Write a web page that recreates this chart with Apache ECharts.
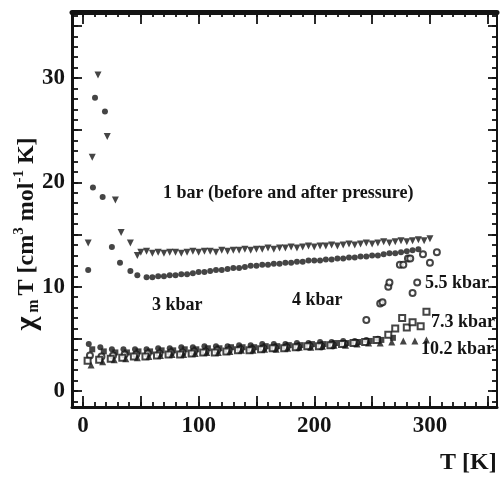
<!DOCTYPE html>
<html><head><meta charset="utf-8">
<script src="https://cdn.jsdelivr.net/npm/echarts@6/dist/echarts.min.js"></script>
<style>html,body{margin:0;padding:0;background:#fff}#c{width:503px;height:485px}</style>
</head><body><div id="c"></div>
<script>
// ---- tick labels ----
const xTickLabels = [0, 100, 200, 300];
const yTickLabels = [0, 10, 20, 30];

// ---- data (T in K, chi_m*T in cm3 mol-1 K) ----
const T_1bar_before = [4.5, 8, 13, 21, 28, 33, 41, 47, 50,
  55,60,65,70,75,80,85,90,95,100,105,110,115,120,125,130,135,140,145,150,155,160,165,170,175,180,185,190,195,200,
  205,210,215,220,225,230,235,240,245,250,255,260,265,270,275,280,285,290,295,300];
const V_1bar_before = [14.2, 22.4, 30.3, 24.4, 18.3, 15.2, 14.2, 13.0, 13.3,
  13.4,13.2,13.3,13.2,13.3,13.3,13.2,13.3,13.4,13.3,13.4,13.4,13.3,13.5,13.4,13.5,13.5,13.6,13.5,13.6,13.6,13.7,13.6,13.7,13.7,13.8,13.7,13.8,13.9,13.8,
  13.9,13.9,14.0,13.9,14.0,14.1,14.0,14.1,14.2,14.1,14.2,14.3,14.2,14.3,14.4,14.3,14.4,14.5,14.4,14.6];

const T_1bar_after = [4.5, 8.6, 10.4, 17, 19, 25, 32, 41, 47,
  55,60,65,70,75,80,85,90,95,100,105,110,115,120,125,130,135,140,145,150,155,160,165,170,175,180,185,190,195,200,
  205,210,215,220,225,230,235,240,245,250,255,260,265,270,275,280,285,290];
const V_1bar_after = [11.6, 19.5, 28.1, 18.6, 26.8, 13.8, 12.3, 11.5, 11.1,
  10.9,10.9,11.0,11.0,11.1,11.1,11.2,11.2,11.3,11.4,11.4,11.5,11.6,11.6,11.7,11.8,11.8,11.9,12.0,12.0,12.1,12.1,12.2,12.2,12.3,12.3,12.4,12.4,12.5,12.5,
  12.5,12.6,12.6,12.7,12.7,12.8,12.8,12.9,12.9,13.0,13.0,13.1,13.2,13.2,13.3,13.4,13.5,13.6];

const T_3kbar = [5,15,25,35,45,55,65,75,85,95,105,115,125,135,145,155,165,175,185,195,205,215,225,235,245,255];
const V_3kbar = [4.5,4.2,4.0,4.0,4.0,4.0,4.1,4.1,4.2,4.2,4.3,4.3,4.3,4.4,4.4,4.5,4.5,4.5,4.6,4.6,4.7,4.7,4.8,4.8,4.9,5.0];

const T_4kbar = [8,18,28,38,48,58,68,78,88,98,108,118,128,138,148,158,168,178,188,198,208,218,228,238,248,258,268];
const V_4kbar = [4.0,3.8,3.7,3.7,3.8,3.8,3.9,3.9,4.0,4.0,4.1,4.1,4.2,4.2,4.2,4.3,4.3,4.4,4.4,4.5,4.5,4.6,4.6,4.7,4.8,4.9,5.1];

const T_5_5kbar = [6,16,26,36,46,56,66,76,86,96,106,116,126,136,146,156,166,176,186,196,206,216,226,236,
  245,257,259,264,265,274,277,281,283,285,289,294,300,306];
const V_5_5kbar = [3.4,3.3,3.4,3.5,3.5,3.6,3.6,3.7,3.7,3.8,3.8,3.9,3.9,4.0,4.0,4.1,4.1,4.2,4.2,4.3,4.3,4.4,4.5,4.6,
  6.8,8.4,8.5,10.0,10.4,12.1,12.1,12.7,12.7,9.4,10.4,13.1,12.3,13.3];

const T_7_3kbar = [4,14,24,34,44,54,64,74,84,94,104,114,124,134,144,154,164,174,184,194,204,214,224,234,244,254,264,
  270,276,280,285,292,297];
const V_7_3kbar = [2.9,3.0,3.1,3.2,3.3,3.3,3.4,3.5,3.5,3.6,3.7,3.7,3.8,3.9,3.9,4.0,4.1,4.1,4.2,4.3,4.3,4.4,4.5,4.6,4.7,4.9,5.4,
  6.0,7.0,6.1,6.6,6.2,7.6];

const T_10_2kbar = [7,17,27,37,47,57,67,77,87,97,107,117,127,137,147,157,167,177,187,197,207,217,227,237,247,257,267,277,287,297];
const V_10_2kbar = [2.5,2.8,3.0,3.1,3.2,3.3,3.4,3.5,3.5,3.6,3.7,3.7,3.8,3.9,3.9,4.0,4.0,4.1,4.2,4.2,4.3,4.4,4.4,4.5,4.6,4.6,4.7,4.8,4.8,4.9];

// ---- helpers ----
function zip(a, b) { return a.map((t, i) => [t, b[i]]); }
function range(a, b, s) { const r = []; for (let v = a; v <= b + 1e-9; v += s) r.push(v); return r; }

const FONT = '"Liberation Serif", "DejaVu Serif", serif';
const INK = '#141414';
const X_MIN = -9.5, X_MAX = 358, Y_MIN = -1.53, Y_MAX = 36.33;

const minorX = range(0, 350, 10), majorX = range(0, 350, 50);
const minorY = range(-1, 36, 1), majorY = range(0, 35, 5);

function xAx(pos, lineW, tickLen, ticks, labels) {
  return {
    type: 'value', position: pos, min: X_MIN, max: X_MAX,
    axisLine: { show: lineW > 0, onZero: false, lineStyle: { color: INK, width: lineW } },
    axisTick: { show: true, inside: true, length: tickLen, customValues: ticks, lineStyle: { color: INK, width: 1.8 } },
    axisLabel: labels ? { customValues: labels, fontSize: 23, fontWeight: 'bold', fontFamily: FONT, color: INK, margin: 8 } : { show: false },
    splitLine: { show: false }
  };
}
function yAx(pos, lineW, tickLen, ticks, labels) {
  return {
    type: 'value', position: pos, min: Y_MIN, max: Y_MAX,
    axisLine: { show: lineW > 0, onZero: false, lineStyle: { color: INK, width: lineW } },
    axisTick: { show: true, inside: true, length: tickLen, customValues: ticks, lineStyle: { color: INK, width: 1.8 } },
    axisLabel: labels ? { customValues: labels, fontSize: 23, fontWeight: 'bold', fontFamily: FONT, color: INK, margin: 7 } : { show: false },
    splitLine: { show: false }
  };
}

function sc(name, T, V, symbol, size, extra) {
  return Object.assign({
    name, type: 'scatter', xAxisIndex: 0, yAxisIndex: 0,
    data: zip(T, V), symbol, symbolSize: size,
    itemStyle: { color: '#161616' }
  }, extra || {});
}

const chart = echarts.init(document.getElementById('c'), null, { renderer: 'canvas' });
chart.setOption({
  animation: false,
  backgroundColor: '#fff',
  grid: { left: 72, right: 6, top: 12, bottom: 78, containLabel: false },
  xAxis: [
    xAx('bottom', 3, 5, minorX, xTickLabels),
    xAx('bottom', 0, 11, majorX, null),
    xAx('top', 5, 5, minorX, null),
    xAx('top', 0, 12, majorX, null)
  ],
  yAxis: [
    yAx('left', 3, 6, minorY, yTickLabels),
    yAx('left', 0, 10, majorY, null),
    yAx('right', 2, 5, minorY, null),
    yAx('right', 0, 9, majorY, null)
  ],
  series: [
    sc('1 bar (before)', T_1bar_before, V_1bar_before, 'triangle', 7, { symbolRotate: 180 }),
    sc('1 bar (after)', T_1bar_after, V_1bar_after, 'circle', 6),
    sc('3 kbar', T_3kbar, V_3kbar, 'circle', 6),
    sc('4 kbar', T_4kbar, V_4kbar, 'rect', 6),
    sc('5.5 kbar', T_5_5kbar, V_5_5kbar, 'emptyCircle', 6, { itemStyle: { color: '#161616', borderWidth: 2 } }),
    sc('7.3 kbar', T_7_3kbar, V_7_3kbar, 'emptyRect', 6, { itemStyle: { color: '#161616', borderWidth: 2 } }),
    sc('10.2 kbar', T_10_2kbar, V_10_2kbar, 'triangle', 7)
  ],
  graphic: [
    { type: 'text', left: 163, top: 184, style: { text: '1 bar (before and after pressure)', font: 'bold 18px ' + FONT, fill: INK } },
    { type: 'text', left: 152, top: 296, style: { text: '3 kbar', font: 'bold 18px ' + FONT, fill: INK } },
    { type: 'text', left: 292, top: 291, style: { text: '4 kbar', font: 'bold 18px ' + FONT, fill: INK } },
    { type: 'text', left: 425, top: 274, style: { text: '5.5 kbar', font: 'bold 18px ' + FONT, fill: INK } },
    { type: 'text', left: 431, top: 313, style: { text: '7.3 kbar', font: 'bold 18px ' + FONT, fill: INK } },
    { type: 'text', left: 421, top: 340, style: { text: '10.2 kbar', font: 'bold 18px ' + FONT, fill: INK } },
    { type: 'text', left: 440, top: 451, style: { text: 'T [K]', font: 'bold 24px ' + FONT, fill: INK } },
    {
      type: 'text', x: 27, y: 234, rotation: Math.PI / 2,
      style: {
        text: '{c|χ}{s| m }{t|T [cm}{p|3}{t| mol}{p|-1}{t| K]}',
        textAlign: 'center', textVerticalAlign: 'middle', fill: INK,
        rich: {
          c: { font: 'bold 30px ' + FONT, fill: INK },
          t: { font: 'bold 24px ' + FONT, fill: INK },
          s: { font: 'bold 16px ' + FONT, fill: INK, verticalAlign: 'bottom' },
          p: { font: 'bold 15px ' + FONT, fill: INK, verticalAlign: 'top' }
        }
      }
    }
  ]
});
</script>
</body></html>
